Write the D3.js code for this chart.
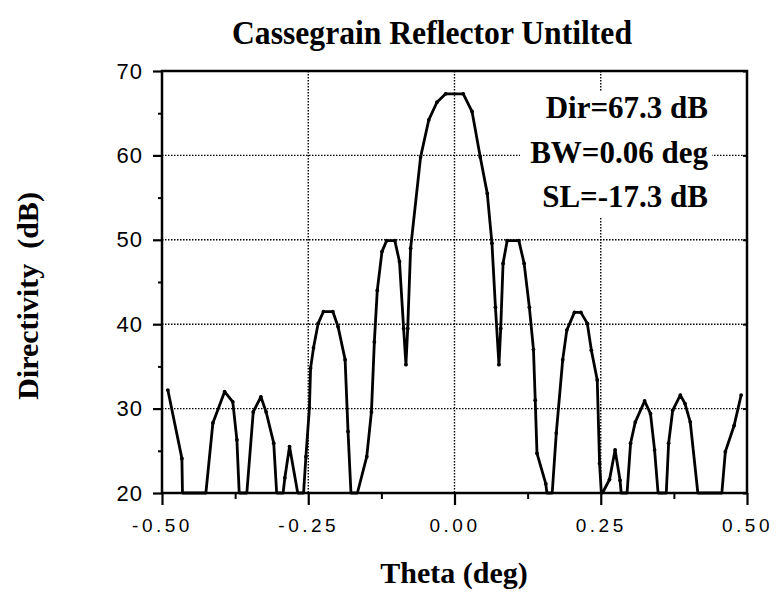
<!DOCTYPE html>
<html>
<head>
<meta charset="utf-8">
<script src="https://cdn.jsdelivr.net/npm/d3@7"></script>
<style>
  body { margin: 0; background: #fff; }
  .serif { font-family: "Liberation Serif", "Times New Roman", serif; font-weight: bold; }
  .tick text { font-family: "Liberation Sans", Arial, sans-serif; fill: #000; }
</style>
</head>
<body>
<svg id="chart" width="778" height="592"></svg>
<script>
const W = 778, H = 592;
const M = { left: 162, right: 747, top: 71, bottom: 493 };

// directivity pattern (values at 20 are the floor of the plot)
const theta = [
  -0.490, -0.466, -0.465, -0.425, -0.413, -0.393, -0.379, -0.372, -0.368,
  -0.355, -0.344, -0.331, -0.322, -0.309, -0.304,
  -0.293, -0.290, -0.282, -0.268,
  -0.258, -0.254, -0.248, -0.246, -0.241, -0.233, -0.224, -0.208, -0.199, -0.187, -0.182, -0.177,
  -0.166, -0.150, -0.142, -0.137, -0.132, -0.124, -0.116, -0.102, -0.094, -0.087, -0.083,
  -0.080, -0.075, -0.058, -0.044, -0.030, -0.015, 0.015, 0.030, 0.044, 0.056, 0.064, 0.070, 0.076,
  0.079, 0.083, 0.090, 0.110, 0.119, 0.128, 0.135, 0.138, 0.141, 0.156, 0.158,
  0.167, 0.174, 0.185, 0.192, 0.205, 0.216, 0.227, 0.234, 0.244, 0.248, 0.251,
  0.253, 0.265, 0.2745, 0.283, 0.285,
  0.295, 0.301, 0.309, 0.325, 0.335, 0.342, 0.348,
  0.362, 0.366, 0.373, 0.386, 0.394, 0.403, 0.416,
  0.457, 0.463, 0.478, 0.490
];
const directivity = [
  32.2, 24.1, 20, 20, 28.3, 32.0, 30.8, 26.3, 20,
  20, 29.6, 31.4, 29.6, 25.9, 20,
  20, 21.8, 25.5, 20,
  20, 24.3, 30.1, 34.8, 37.2, 40.1, 41.5, 41.5, 39.7, 35.8, 27.3, 20,
  20, 24.3, 29.6, 37.9, 44.0, 48.6, 49.9, 49.9, 47.4, 39.5, 35.2,
  39.5, 49.0, 59.8, 64.2, 66.3, 67.3, 67.3, 65.2, 59.8, 55.5, 49.6, 42.0, 35.2,
  39.5, 47.2, 49.9, 49.9, 47.2, 42.0, 37.0, 31.0, 24.7, 21.1, 20,
  20, 27.1, 35.8, 39.3, 41.4, 41.4, 40.1, 36.9, 33.4, 23.5, 20,
  20, 21.6, 25.1, 21.5, 20,
  20, 25.9, 28.4, 30.9, 29.4, 25.1, 20,
  20, 25.9, 29.8, 31.6, 30.6, 28.4, 20,
  20, 24.9, 28.0, 31.6
];

const xMajor = [-0.5, -0.25, 0, 0.25, 0.5];
const xMinor = [-0.375, -0.125, 0.125, 0.375];
const yMajor = [20, 30, 40, 50, 60, 70];
const yMinor = [25, 35, 45, 55, 65];
const xGrid = [-0.25, 0, 0.25];
const yGrid = [30, 40, 50, 60];
const notes = ["Dir=67.3 dB", "BW=0.06 deg", "SL=-17.3 dB"];

const data = theta.map((t, i) => ({ t, d: directivity[i] }));

const x = d3.scaleLinear().domain([-0.5, 0.5]).range([M.left, M.right]);
const y = d3.scaleLinear().domain([20, 70]).range([M.bottom, M.top]).clamp(true);

const svg = d3.select("#chart");

// grid
svg.append("g").selectAll("line").data(xGrid).join("line")
  .attr("x1", d => x(d)).attr("x2", d => x(d))
  .attr("y1", M.top).attr("y2", M.bottom)
  .attr("stroke", "#000").attr("stroke-width", 1.4).attr("stroke-dasharray", "1.5,1.5");
svg.append("g").selectAll("line").data(yGrid).join("line")
  .attr("x1", M.left).attr("x2", M.right)
  .attr("y1", d => y(d)).attr("y2", d => y(d))
  .attr("stroke", "#000").attr("stroke-width", 1.4).attr("stroke-dasharray", "1.5,1.5");

// annotation box (covers grid)
svg.append("rect")
  .attr("x", 520).attr("y", 92).attr("width", 192).attr("height", 126)
  .attr("fill", "#fff");

// frame
svg.append("rect")
  .attr("x", M.left).attr("y", M.top)
  .attr("width", M.right - M.left).attr("height", M.bottom - M.top)
  .attr("fill", "none").attr("stroke", "#000").attr("stroke-width", 2.5);

// axes
const gx = svg.append("g")
  .attr("transform", `translate(0,${M.bottom})`)
  .call(d3.axisBottom(x).tickValues(xMajor).tickSize(12).tickPadding(14)
    .tickFormat(d => d3.format(".2f")(d).replace("−", "-")));
gx.select(".domain").remove();
gx.selectAll(".tick line").attr("stroke-width", 2.2);
gx.selectAll(".tick text").attr("font-size", 19).attr("letter-spacing", 3.5);

svg.append("g")
  .attr("transform", `translate(0,${M.bottom})`)
  .call(d3.axisBottom(x).tickValues(xMinor).tickSize(6).tickFormat(""))
  .call(g => g.select(".domain").remove())
  .selectAll(".tick line").attr("stroke-width", 2);

const gy = svg.append("g")
  .attr("transform", `translate(${M.left},0)`)
  .call(d3.axisLeft(y).tickValues(yMajor).tickSize(9).tickPadding(10));
gy.select(".domain").remove();
gy.selectAll(".tick line").attr("stroke-width", 2.2);
gy.selectAll(".tick text").attr("font-size", 22).attr("letter-spacing", 1);

svg.append("g")
  .attr("transform", `translate(${M.left},0)`)
  .call(d3.axisLeft(y).tickValues(yMinor).tickSize(4).tickFormat(""))
  .call(g => g.select(".domain").remove())
  .selectAll(".tick line").attr("stroke-width", 2);

svg.append("g")
  .attr("transform", `translate(${M.right},0)`)
  .call(d3.axisRight(y).tickValues(yMajor).tickSize(-4).tickFormat(""))
  .call(g => g.select(".domain").remove())
  .selectAll(".tick line").attr("stroke-width", 2);

// curve
const line = d3.line().x(d => x(d.t)).y(d => y(d.d));
svg.append("path")
  .datum(data)
  .attr("d", line)
  .attr("fill", "none")
  .attr("stroke", "#000")
  .attr("stroke-width", 2.8)
  .attr("stroke-linejoin", "round");
svg.append("g").selectAll("circle").data(data.filter(d => d.d > 20)).join("circle")
  .attr("cx", d => x(d.t)).attr("cy", d => y(d.d)).attr("r", 1.9).attr("fill", "#000");

// texts
svg.append("text").attr("class", "serif")
  .attr("x", 432).attr("y", 44).attr("text-anchor", "middle")
  .attr("font-size", 33).attr("textLength", 400).attr("lengthAdjust", "spacingAndGlyphs")
  .text("Cassegrain Reflector Untilted");

svg.append("text").attr("class", "serif")
  .attr("x", 454).attr("y", 583).attr("text-anchor", "middle")
  .attr("font-size", 30).text("Theta (deg)");

svg.append("text").attr("class", "serif")
  .attr("transform", "translate(38,296) rotate(-90)")
  .attr("text-anchor", "middle")
  .attr("font-size", 30).attr("xml:space", "preserve")
  .text("Directivity  (dB)");

svg.append("g").selectAll("text").data(notes).join("text")
  .attr("class", "serif")
  .attr("x", 708).attr("y", (d, i) => 118 + i * 44.5)
  .attr("text-anchor", "end")
  .attr("font-size", 31)
  .text(d => d);
</script>
</body>
</html>
